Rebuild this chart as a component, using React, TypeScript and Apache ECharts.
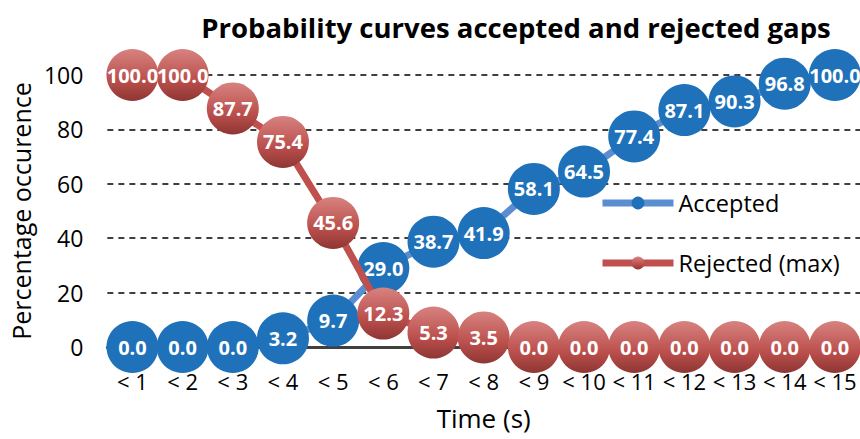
import { useEffect, useRef } from "react";
import * as echarts from "echarts";

const categories = ["< 1", "< 2", "< 3", "< 4", "< 5", "< 6", "< 7", "< 8", "< 9", "< 10", "< 11", "< 12", "< 13", "< 14", "< 15"];
const accepted = [0.0, 0.0, 0.0, 3.2, 9.7, 29.0, 38.7, 41.9, 58.1, 64.5, 77.4, 87.1, 90.3, 96.8, 100.0];
const rejected = [100.0, 100.0, 87.7, 75.4, 45.6, 12.3, 5.3, 3.5, 0.0, 0.0, 0.0, 0.0, 0.0, 0.0, 0.0];

const FONT = "'Open Sans', sans-serif";

export default function App() {
  const chartRef = useRef<HTMLDivElement>(null);

  useEffect(() => {
    document.body.style.margin = "0";
    if (!chartRef.current) return;
    const chart = echarts.init(chartRef.current, null, { renderer: "svg" });

    const label = {
      show: true,
      position: "inside",
      color: "#fff",
      fontSize: 20,
      fontWeight: "bold",
      fontFamily: FONT,
      formatter: (p: { value: number }) => Number(p.value).toFixed(1),
    };

    chart.setOption({
      animation: false,
      backgroundColor: "#fff",
      title: {
        text: "Probability curves accepted and rejected gaps",
        left: 511,
        textAlign: "center",
        top: 8,
        textStyle: { fontSize: 27.5, fontWeight: "bold", color: "#000", fontFamily: FONT },
      },
      legend: {
        orient: "vertical",
        left: 594,
        top: 186,
        itemWidth: 71,
        itemHeight: 16,
        itemGap: 36,
        textStyle: { fontSize: 23.5, color: "#000", fontFamily: FONT },
        lineStyle: { width: 7 },
        data: ["Accepted", "Rejected (max)"],
      },
      grid: { left: 105, right: 0, top: 75, bottom: 92 },
      xAxis: {
        type: "category",
        data: categories,
        name: "Time (s)",
        nameLocation: "middle",
        nameGap: 58,
        nameTextStyle: { fontSize: 26, color: "#000", fontFamily: FONT },
        axisLine: { lineStyle: { color: "#404040", width: 3 } },
        axisTick: { show: false },
        axisLabel: { fontSize: 22, color: "#000", fontFamily: FONT, margin: 23, interval: 0 },
      },
      yAxis: {
        type: "value",
        min: 0,
        max: 100,
        interval: 20,
        name: "Percentage occurence",
        nameLocation: "middle",
        nameGap: 68,
        nameTextStyle: { fontSize: 25, color: "#000", fontFamily: FONT },
        axisLine: { show: false },
        axisTick: { show: false },
        axisLabel: { fontSize: 23, color: "#000", fontFamily: FONT, margin: 24 },
        splitLine: { lineStyle: { color: "#000", width: 1.5, type: [6, 5] } },
      },
      series: [
        {
          name: "Accepted",
          type: "line",
          z: 2,
          data: accepted,
          symbol: "circle",
          symbolSize: 52,
          lineStyle: { color: "#5b8ed0", width: 7 },
          itemStyle: { color: "#1f72b9" },
          label,
        },
        {
          name: "Rejected (max)",
          type: "line",
          z: 3,
          data: rejected,
          symbol: "circle",
          symbolSize: 52,
          lineStyle: { color: "#c0504d", width: 7 },
          itemStyle: {
            color: {
              type: "linear",
              x: 0, y: 0, x2: 0, y2: 1,
              colorStops: [
                { offset: 0, color: "#d78380" },
                { offset: 0.6, color: "#bb4f4c" },
                { offset: 1, color: "#8e3634" },
              ],
            },
          },
          label,
        },
      ],
    });

    return () => {
      chart.dispose();
    };
  }, []);

  return <div ref={chartRef} style={{ width: "860px", height: "439px" }} />;
}
